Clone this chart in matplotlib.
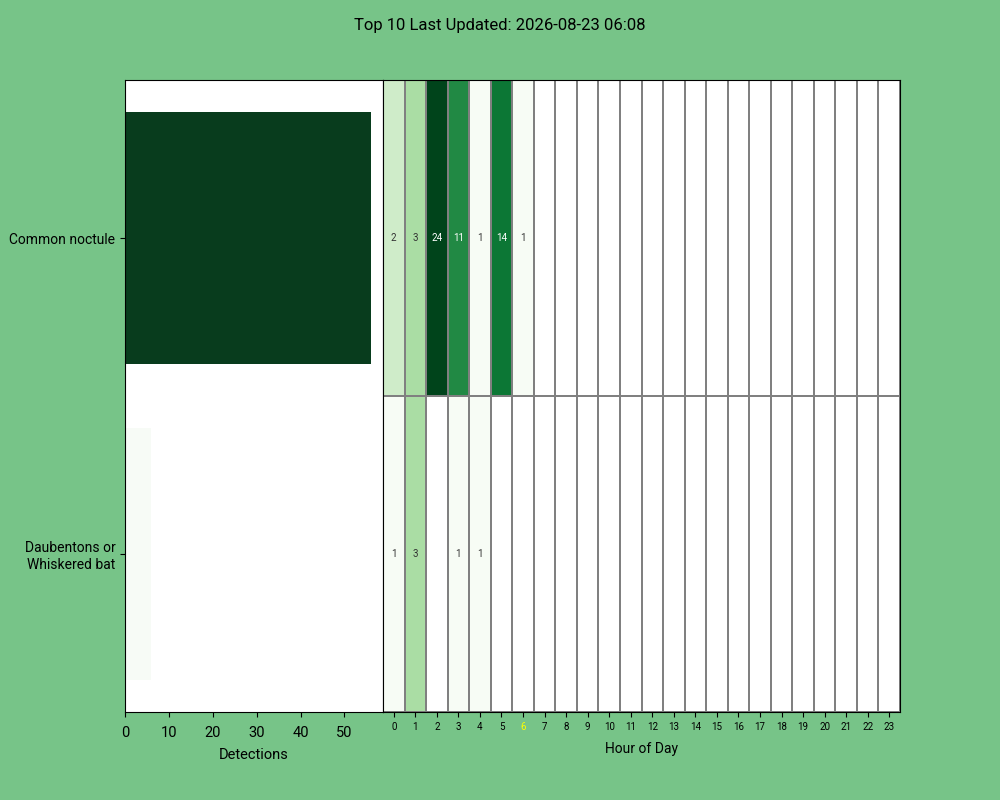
import colorsys
import numpy as np
import matplotlib
matplotlib.use("Agg")
import matplotlib.pyplot as plt
from matplotlib.colors import LogNorm, to_rgb

plt.rcParams['font.family'] = ['Roboto', 'DejaVu Sans']

title = "Top 10 Last Updated: 2026-08-23 06:08"
species = ["Common noctule", "Daubentons or\nWhiskered bat"]
totals = [56, 6]
hours = list(range(24))
current_hour = 6
hourly = [
    [2, 3, 24, 11, 1, 14, 1] + [0] * 17,
    [1, 3, 0, 1, 1, 0, 0] + [0] * 17,
]

bg = "#77c488"
fig = plt.figure(figsize=(10, 8), dpi=100, facecolor=bg)

# Left bar chart
ax1 = fig.add_axes([0.125, 0.11, 0.258, 0.79])
cmap = plt.get_cmap("Greens")
bnorm = LogNorm(vmin=min(totals), vmax=max(totals))
def desat(c, s=0.75):
    h, l, sat = colorsys.rgb_to_hls(*to_rgb(c))
    return colorsys.hls_to_rgb(h, l, sat * s)
bar_colors = [desat(cmap(bnorm(v))) for v in totals]
ypos = np.arange(len(species))
ax1.barh(ypos, totals, height=0.8, color=bar_colors)
ax1.set_ylim(len(species) - 0.5, -0.5)
ax1.set_xlim(0, max(totals) * 1.05)
ax1.set_yticks(ypos)
ax1.set_yticklabels(species, fontsize=10)
ax1.set_xticks([0, 10, 20, 30, 40, 50])
ax1.tick_params(axis='x', labelsize=10.5, pad=6.5)
ax1.set_xlabel("Detections", fontsize=10.5, labelpad=6)
ax1.set_facecolor("white")
for s in ax1.spines.values():
    s.set_color("black")

# Heatmap
ax2 = fig.add_axes([0.383, 0.11, 0.517, 0.79])
data = np.array(hourly, dtype=float)
masked = np.ma.masked_where(data == 0, data)
hcmap = plt.get_cmap("Greens").copy()
hcmap.set_bad("white")
hnorm = LogNorm(vmin=1, vmax=data.max())
ax2.pcolormesh(np.arange(25) - 0.5, np.arange(3) - 0.5, masked, cmap=hcmap, norm=hnorm,
               edgecolors="#808080", linewidth=0.35)
ax2.set_xlim(-0.5, 23.5)
ax2.set_ylim(len(species) - 0.5, -0.5)
for i in range(data.shape[0]):
    for j in range(data.shape[1]):
        v = data[i, j]
        if v > 0:
            col = "white" if hnorm(v) > 0.6 else "#333333"
            ax2.text(j, i, f"{int(v)}", ha="center", va="center", fontsize=7, color=col)
ax2.set_yticks([])
ax2.set_xticks(hours)
ax2.set_xticklabels([str(h) for h in hours], fontsize=7)
for lbl in ax2.get_xticklabels():
    if lbl.get_text() == str(current_hour):
        lbl.set_color("yellow")
ax2.set_xlabel("Hour of Day", fontsize=10, labelpad=7.5)
for s in ax2.spines.values():
    s.set_color("black")

fig.suptitle(title, fontsize=12, y=0.978)
fig.savefig("out.png", dpi=100, facecolor=bg)
